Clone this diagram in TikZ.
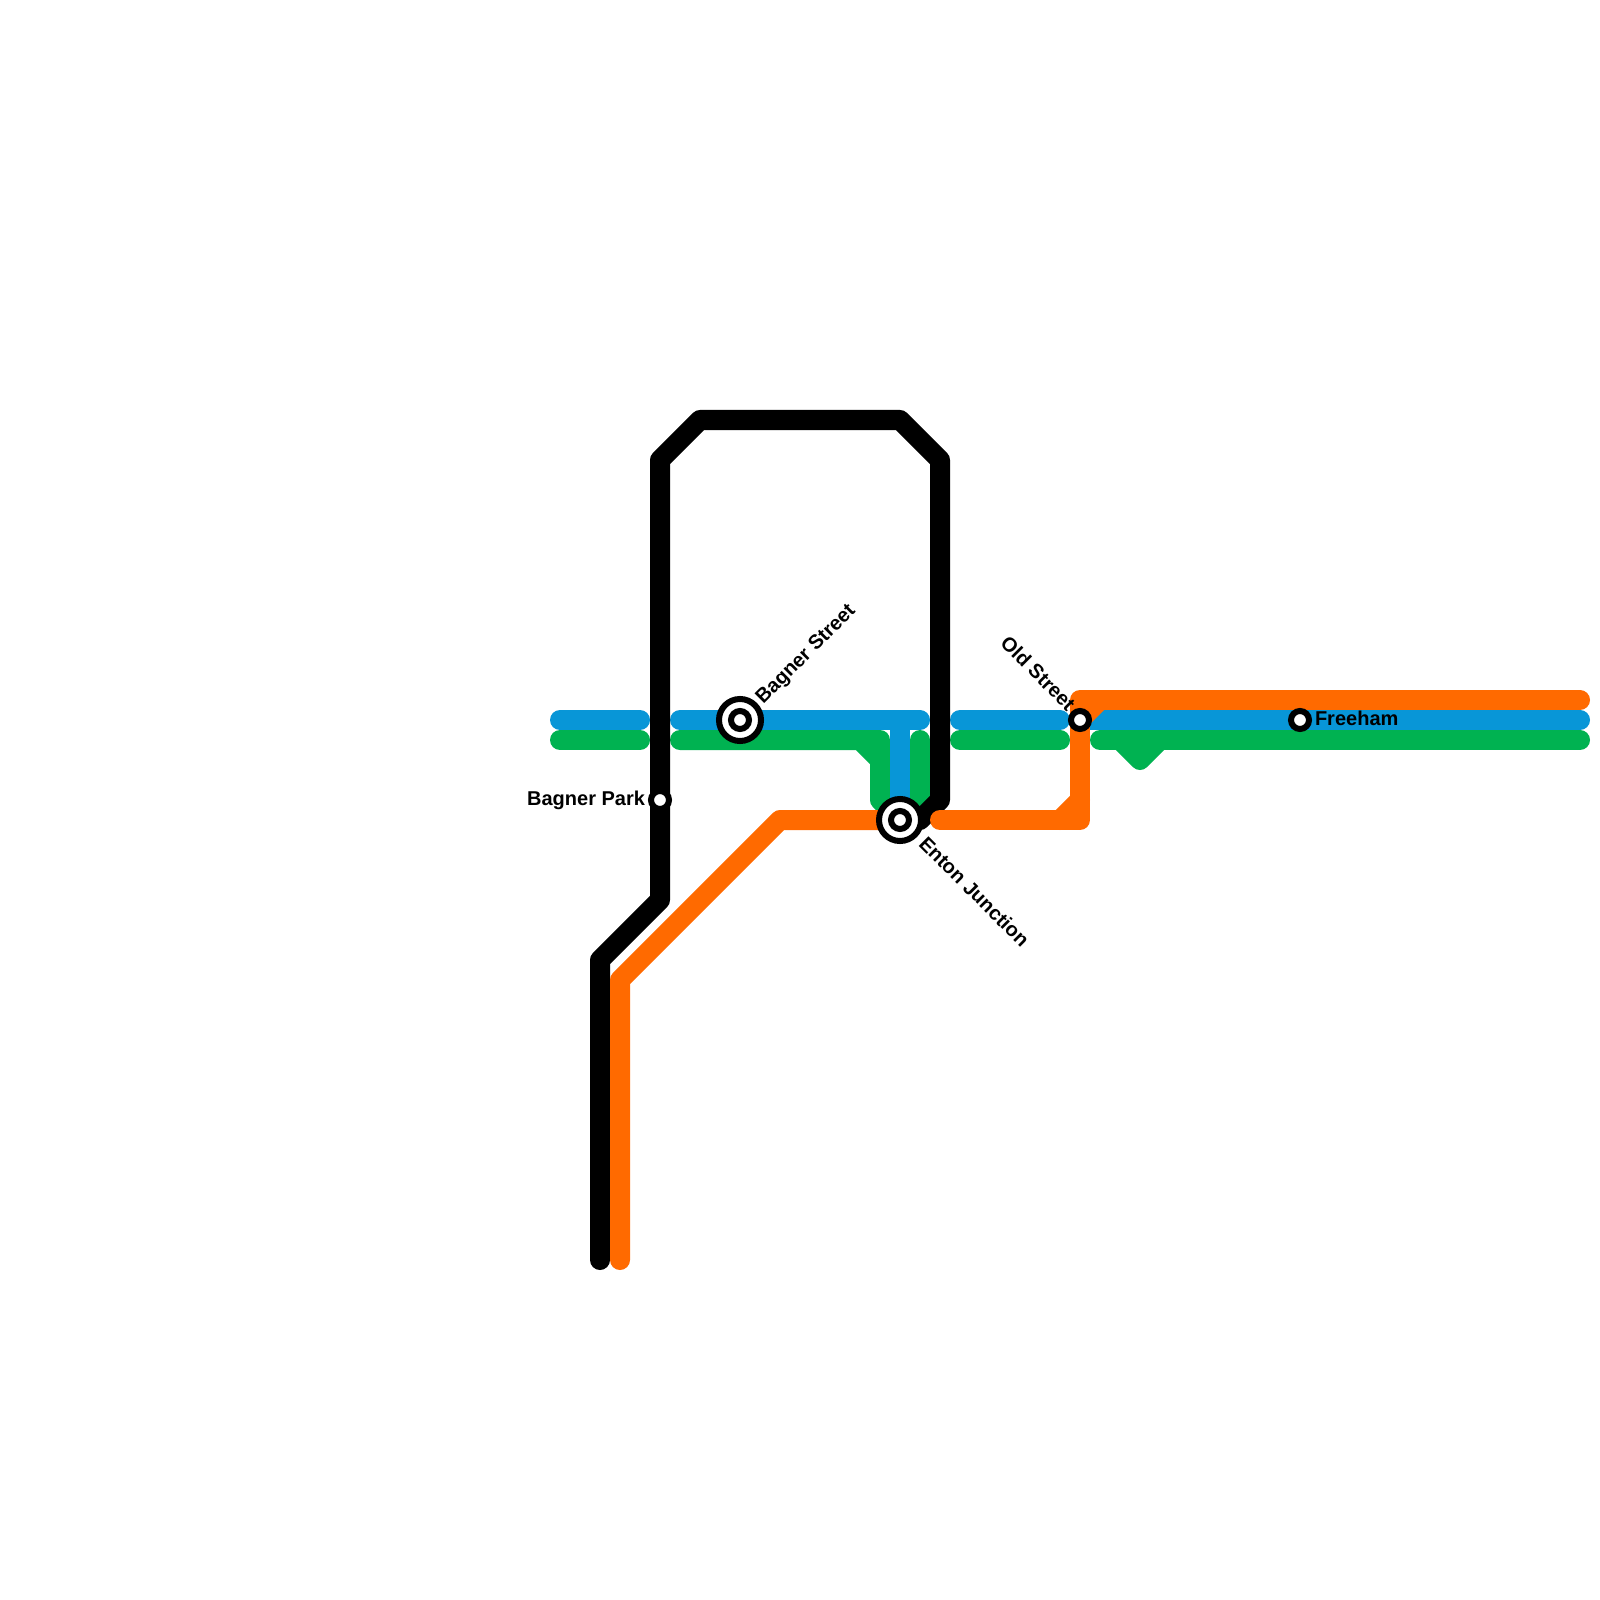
\documentclass[tikz,border=0pt]{standalone}
\usepackage{fontspec}
\setmainfont{Liberation Sans}
\definecolor{lblue}{HTML}{0896D7}
\definecolor{lgreen}{HTML}{00B251}
\definecolor{lorange}{HTML}{FF6A00}
\tikzset{
  rail/.style={line width=5.69pt,line cap=round,line join=round},
  smallstn/.style={circle,draw=black,fill=white,line width=1.71pt,inner sep=0pt,minimum size=5.12pt},
  bigstn/.style={circle,draw=black,fill=white,line width=1.71pt,inner sep=0pt,minimum size=11.95pt},
  bigcore/.style={circle,draw=black,fill=white,line width=1.71pt,inner sep=0pt,minimum size=5.12pt},
  lbl/.style={inner sep=0pt,outer sep=0pt,font=\fontsize{5.69pt}{6.5pt}\selectfont\bfseries}
}
\begin{document}
\begin{tikzpicture}[x=0.01cm,y=-0.01cm]
\useasboundingbox[fill=white] (0,0) rectangle (1600,1600);
\coordinate (bs) at (740,720);
\coordinate (ej) at (900,820);
\coordinate (os) at (1080,720);
\coordinate (fh) at (1300,720);
\coordinate (bp) at (660,800);
% green
\draw[rail,lgreen] (560,740) -- (640,740);
\draw[rail,lgreen] (680,740) -- (860,740) -- (880,760) -- (880,800) -- (ej);
\draw[rail,lgreen] (860,740) -- (880,740) -- (880,760);
\draw[rail,lgreen] (920,740) -- (920,800) -- (ej);
\draw[rail,lgreen] (960,740) -- (1060,740);
\draw[rail,lgreen] (1100,740) -- (1580,740);
\draw[rail,lgreen] (1120,740) -- (1140,760) -- (1160,740);
% blue
\draw[rail,lblue] (560,720) -- (640,720);
\draw[rail,lblue] (680,720) -- (920,720);
\draw[rail,lblue] (900,720) -- (ej);
\draw[rail,lblue] (960,720) -- (1060,720);
\draw[rail,lblue] (os) -- (1580,720);
% black
\draw[rail,black] (600,1260) -- (600,960) -- (660,900) -- (660,460) -- (700,420) -- (900,420) -- (940,460) -- (940,800) -- (920,820) -- (ej);
% orange
\draw[rail,lorange] (620,1260) -- (620,980) -- (780,820) -- (ej);
\draw[rail,lorange] (940,820) -- (1080,820) -- (1080,700) -- (1580,700);
\draw[rail,lorange] (1060,820) -- (1080,800);
\draw[rail,lorange] (1080,720) -- (1100,700);
% stations
\node[bigstn] (bsa) at (bs) {};
\node[bigcore] (bsb) at (bs) {};
\node[bigstn] (eja) at (ej) {};
\node[bigcore] (ejb) at (ej) {};
\node[smallstn] (osa) at (os) {};
\node[smallstn] (fha) at (fh) {};
\node[smallstn] (bpa) at (bp) {};
% labels
\node[lbl,anchor=east] (t1) at (645,800) {Bagner Park};
\node[lbl,anchor=west] (t2) at (1315,718) {Freeham};
\node[lbl,anchor=west,rotate=45] (t3) at (760,701) {Bagner Street};
\node[lbl,anchor=west,rotate=-45] (t4) at (923,840) {Enton Junction};
\node[lbl,anchor=east,rotate=-45] (t5) at (1072,707) {Old Street};
\end{tikzpicture}
\end{document}
